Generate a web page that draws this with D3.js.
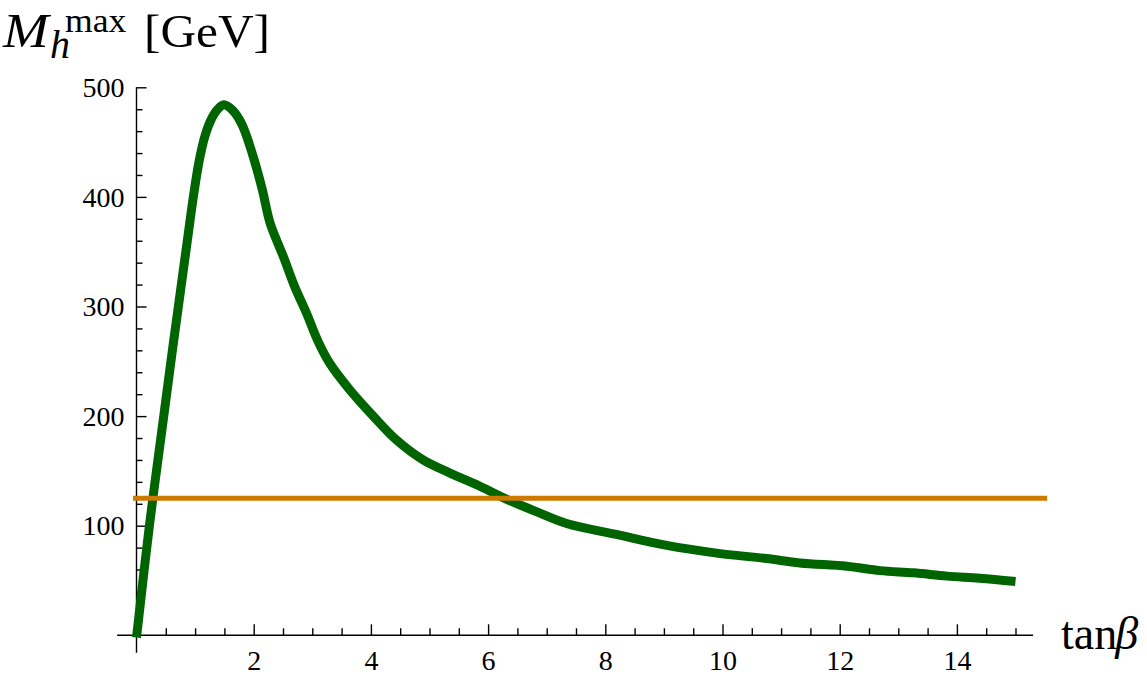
<!DOCTYPE html>
<html>
<head>
<meta charset="utf-8">
<script src="https://cdn.jsdelivr.net/npm/d3@7"></script>
<style>
  html, body { margin: 0; padding: 0; background: #fff; }
  svg { display: block; }
  text { font-family: "Liberation Serif", "Times New Roman", Times, serif; fill: #000; }
</style>
</head>
<body>
<svg id="chart" width="1147" height="679"></svg>
<script>
// ---- data ----
const tanBeta = [0, 0.22, 0.47, 0.62, 0.76, 0.87, 0.97, 1.07, 1.16, 1.26, 1.37, 1.49, 1.64, 1.80, 1.99, 2.15, 2.28, 2.51, 2.70, 2.90, 3.10, 3.30, 3.64, 4.04, 4.44, 4.89, 5.35, 5.86, 6.32, 6.77, 7.34, 8.19, 9.05, 9.90, 10.75, 11.32, 12.12, 12.69, 13.26, 13.83, 14.39, 15];
const mhMax   = [-2, 100, 202, 263, 318, 361, 400, 433, 454, 469, 479, 484, 479, 466, 437, 406, 376, 345, 318, 294, 268, 248, 224, 200, 178, 160, 148, 136, 124, 114, 102, 92, 82, 75, 70, 66, 63, 59, 57, 54, 52, 49];
const higgsMass = 125;
const higgsLineX = [-0.06, 15.54];
const xMajorTicks = [2, 4, 6, 8, 10, 12, 14];
const yMajorTicks = [100, 200, 300, 400, 500];

// ---- layout ----
const svg = d3.select("#chart");
const x = d3.scaleLinear().domain([0, 15]).range([136.5, 1015.5]);
const y = d3.scaleLinear().domain([0, 500]).range([635.3, 87.3]);

const xMinor = d3.range(0.5, 15.01, 0.5).filter(v => !xMajorTicks.includes(v));
const yMinor = d3.range(20, 500, 20).filter(v => !yMajorTicks.includes(v));
const SERIF = "Liberation Serif, Times New Roman, serif";

// axis lines
const axisG = svg.append("g");
axisG.append("line")
  .attr("x1", x(-0.33)).attr("x2", x(15.3))
  .attr("y1", y(0)).attr("y2", y(0))
  .attr("stroke", "#000").attr("stroke-width", 1.4);
axisG.append("line")
  .attr("x1", x(0)).attr("x2", x(0))
  .attr("y1", y(-16)).attr("y2", y(500))
  .attr("stroke", "#000").attr("stroke-width", 1.4);

function styleAxis(g) {
  g.attr("font-family", SERIF).attr("font-size", 28);
  g.select(".domain").remove();
  g.selectAll("line").attr("stroke", "#000").attr("stroke-width", 1.4);
  g.selectAll("text").attr("fill", "#000");
}

// x axis ticks
const xAxisMajor = svg.append("g").attr("transform", `translate(0,${y(0)})`)
  .call(d3.axisBottom(x).tickValues(xMajorTicks).tickSize(-11).tickFormat(d3.format("d")));
const xAxisMinor = svg.append("g").attr("transform", `translate(0,${y(0)})`)
  .call(d3.axisBottom(x).tickValues(xMinor).tickSize(-7).tickFormat(""));
styleAxis(xAxisMajor); styleAxis(xAxisMinor);
xAxisMajor.selectAll("text").attr("y", 34.7).attr("dy", null);

// y axis ticks
const yAxisMajor = svg.append("g").attr("transform", `translate(${x(0)},0)`)
  .call(d3.axisLeft(y).tickValues(yMajorTicks).tickSize(-10).tickPadding(12).tickFormat(d3.format("d")));
const yAxisMinor = svg.append("g").attr("transform", `translate(${x(0)},0)`)
  .call(d3.axisLeft(y).tickValues(yMinor).tickSize(-6).tickFormat(""));
styleAxis(yAxisMajor); styleAxis(yAxisMinor);
yAxisMajor.selectAll("text").attr("dy", "0.33em");

// curve
const pts = tanBeta.map((t, i) => [t, mhMax[i]]);
const line = d3.line().x(d => x(d[0])).y(d => y(d[1])).curve(d3.curveCatmullRom.alpha(0.5));
svg.append("path")
  .attr("d", line(pts))
  .attr("fill", "none")
  .attr("stroke", "#006400")
  .attr("stroke-width", 9)
  .attr("stroke-linejoin", "round");

// Higgs mass line
svg.append("path")
  .attr("d", d3.line().x(d => x(d)).y(() => y(higgsMass))(higgsLineX))
  .attr("fill", "none")
  .attr("stroke", "#CC7A00")
  .attr("stroke-width", 5);

// title
const title = svg.append("g").attr("font-family", SERIF);
title.append("text").attr("x", 3).attr("y", 47)
  .attr("font-size", 49).attr("font-style", "italic")
  .attr("transform", "translate(3,0) scale(1.12,1) translate(-3,0)").text("M");
title.append("text").attr("x", 50).attr("y", 58)
  .attr("font-size", 40).attr("font-style", "italic").text("h");
title.append("text").attr("x", 65).attr("y", 32)
  .attr("font-size", 33).attr("transform", "translate(65,0) scale(1.08,1) translate(-65,0)").text("max");
title.append("text").attr("x", 144).attr("y", 47)
  .attr("font-size", 47).attr("transform", "translate(144,0) scale(1.05,1) translate(-144,0)").text("[GeV]");

// x label
const xl = svg.append("text").attr("x", 1061).attr("y", 649)
  .attr("font-family", SERIF).attr("font-size", 46);
xl.append("tspan").text("tan");
xl.append("tspan").attr("font-style", "italic").attr("dx", -2).text("β");
</script>
</body>
</html>
